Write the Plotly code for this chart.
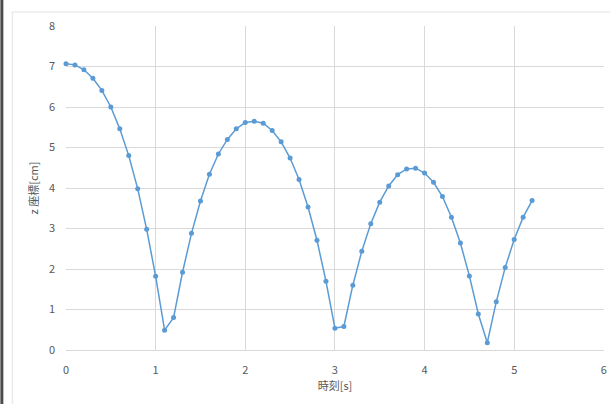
import plotly.graph_objects as go

# 時刻 [s] and z 座標 [cm]
t_s = [0.0, 0.1, 0.2, 0.3, 0.4, 0.5, 0.6, 0.7, 0.8, 0.9,
       1.0, 1.1, 1.2, 1.3, 1.4, 1.5, 1.6, 1.7, 1.8, 1.9,
       2.0, 2.1, 2.2, 2.3, 2.4, 2.5, 2.6, 2.7, 2.8, 2.9,
       3.0, 3.1, 3.2, 3.3, 3.4, 3.5, 3.6, 3.7, 3.8, 3.9,
       4.0, 4.1, 4.2, 4.3, 4.4, 4.5, 4.6, 4.7, 4.8, 4.9,
       5.0, 5.1, 5.2]
z_cm = [7.07, 7.04, 6.92, 6.71, 6.41, 6.00, 5.46, 4.80, 3.98, 2.98,
        1.82, 0.49, 0.80, 1.92, 2.88, 3.68, 4.34, 4.84, 5.20, 5.46,
        5.62, 5.65, 5.60, 5.42, 5.14, 4.74, 4.21, 3.53, 2.71, 1.70,
        0.54, 0.58, 1.60, 2.44, 3.12, 3.65, 4.05, 4.33, 4.47, 4.49,
        4.37, 4.14, 3.79, 3.28, 2.64, 1.83, 0.89, 0.18, 1.19, 2.04,
        2.73, 3.28, 3.69]
x_ticks = [0, 1, 2, 3, 4, 5, 6]
y_ticks = [0, 1, 2, 3, 4, 5, 6, 7, 8]

W, H = 610, 404
L, R, T, B = 66, 3, 26, 54
pw, ph = W - L - R, H - T - B

def px_x(p):
    return (p - L) / pw

def px_y(p):
    return 1 - (p - T) / ph

FONT = "Noto Sans CJK JP, Noto Sans, sans-serif"
GRID = "#d9d9d9"
TXT = "#595959"

fig = go.Figure(
    go.Scatter(
        x=t_s, y=z_cm, mode="lines+markers",
        line=dict(color="#5b9bd5", width=1.5),
        marker=dict(color="#5b9bd5", size=5),
        cliponaxis=False,
    )
)

fig.update_layout(
    width=W, height=H,
    margin=dict(l=L, r=R, t=T, b=B),
    paper_bgcolor="white", plot_bgcolor="white",
    showlegend=False,
    font=dict(family=FONT, color=TXT, size=11),
    xaxis=dict(
        range=[0, 6.002], tickvals=x_ticks, ticktext=[str(v) for v in x_ticks],
        showgrid=True, gridcolor=GRID, gridwidth=1,
        zeroline=False, showline=True, linecolor=GRID, linewidth=1,
        ticks="", ticklabelstandoff=10,
        tickfont=dict(size=11, color=TXT),
        title=dict(text="時刻[s]", font=dict(size=11, color=TXT), standoff=6),
    ),
    yaxis=dict(
        range=[0, 8], tickvals=y_ticks, ticktext=[str(v) for v in y_ticks],
        showgrid=True, gridcolor=GRID, gridwidth=1,
        zeroline=False, showline=False,
        ticks="", ticklabelstandoff=10,
        tickfont=dict(size=11, color=TXT),
        title=dict(text="z 座標[cm]", font=dict(size=11, color=TXT), standoff=8),
    ),
    shapes=[
        # outer chart frame
        dict(type="rect", xref="paper", yref="paper",
             x0=px_x(12), x1=px_x(640), y0=px_y(440), y1=px_y(12),
             line=dict(color="#e3e3e3", width=1), fillcolor="rgba(0,0,0,0)",
             layer="below"),
        # dark strip along the left edge
        dict(type="rect", xref="paper", yref="paper",
             x0=px_x(0), x1=px_x(3), y0=px_y(404), y1=px_y(0),
             line=dict(width=0), fillcolor="#4a4a4a"),
    ],
)

fig.write_html("out.html")
